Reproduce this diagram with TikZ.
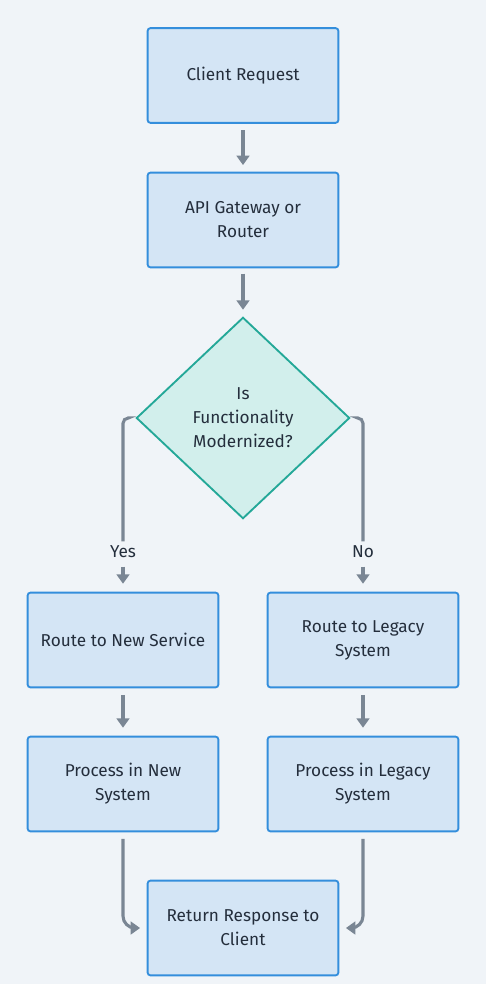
\documentclass[tikz,border=0pt]{standalone}
\usepackage{fontspec}
\setmainfont{Fira Sans}
\usepackage{tikz}
\usetikzlibrary{shapes.geometric,arrows.meta,positioning}
\definecolor{bgcol}{RGB}{240,244,248}
\definecolor{boxfill}{RGB}{212,229,245}
\definecolor{boxline}{RGB}{52,142,220}
\definecolor{decfill}{RGB}{210,239,236}
\definecolor{decline}{RGB}{36,168,152}
\definecolor{arrcol}{RGB}{122,134,148}
\definecolor{txtcol}{RGB}{36,46,60}
\tikzset
{
    stepbox/.style  = {rectangle, rounded corners=2pt, draw=boxline, fill=boxfill, line width=1.4pt, align=center, minimum width=143pt, minimum height=71pt, text=txtcol, font=\fontsize{12.9}{18}\selectfont},
    decision/.style = {diamond, draw=decline, fill=decfill, line width=1.4pt, align=center, inner sep=0pt, minimum width=160pt, minimum height=151pt, text=txtcol, font=\fontsize{12.9}{18}\selectfont},
    flow/.style     = {draw=arrcol, line width=2.3pt, -{Triangle[width=9.5pt,length=7pt]}},
    branch/.style   = {draw=arrcol, line width=2.3pt, rounded corners=4pt},
    answer/.style   = {text=txtcol, font=\fontsize{12.9}{18}\selectfont}
}

\begin{document}
\begin{tikzpicture}[x=0.75pt, y=-0.75pt]
    \fill [bgcol] (0,0) rectangle (486,984);
    % main column
    \node [stepbox] (request) at (243,75.5) {Client Request};
    \node [stepbox] (gateway) at (243,220) {API Gateway or \\ Router};
    \node [decision] (modern) at (243,418) {Is \\ Functionality \\ Modernized?};
    % two branches
    \node [answer] (yes) at (123,552) {Yes};
    \node [answer] (no) at (363,552) {No};
    \node [stepbox] (newroute) at (123,640) {Route to New Service};
    \node [stepbox] (oldroute) at (363,640) {Route to Legacy \\ System};
    \node [stepbox] (newproc) at (123,784) {Process in New \\ System};
    \node [stepbox] (oldproc) at (363,784) {Process in Legacy \\ System};
    \node [stepbox] (response) at (243,928) {Return Response to \\ Client};

    \draw [flow, shorten <=5pt, shorten >=5pt] (request) -- (gateway);
    \draw [flow, shorten <=4pt, shorten >=5pt] (gateway) -- (modern);
    \draw [branch, shorten <=6pt] (modern.west) -| (yes.north);
    \draw [branch, shorten <=6pt] (modern.east) -| (no.north);
    \draw [flow, shorten <=3pt, shorten >=6pt] (yes) -- (newroute);
    \draw [flow, shorten <=3pt, shorten >=6pt] (no) -- (oldroute);
    \draw [flow, shorten <=5pt, shorten >=6pt] (newroute) -- (newproc);
    \draw [flow, shorten <=5pt, shorten >=6pt] (oldroute) -- (oldproc);
    \draw [flow, rounded corners=9pt, shorten <=5pt, shorten >=5pt] (newproc.south) |- (response.west);
    \draw [flow, rounded corners=9pt, shorten <=5pt, shorten >=5pt] (oldproc.south) |- (response.east);
\end{tikzpicture}
\end{document}
